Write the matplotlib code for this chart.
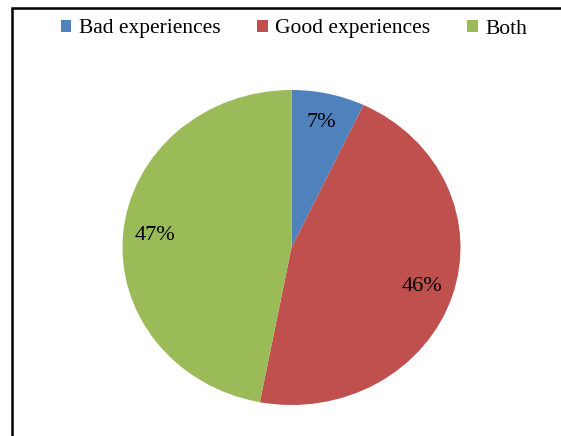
import matplotlib
matplotlib.use('Agg')
import matplotlib.pyplot as plt
from matplotlib.patches import Rectangle

categories = ['Bad experiences', 'Good experiences', 'Both']
shares = [7, 46, 47]
colors = ['#4F81BD', '#C0504D', '#9BBB59']

plt.rcParams['font.family'] = ['Liberation Serif', 'DejaVu Serif']

W, H = 561, 436
fig = plt.figure(figsize=(W / 100, H / 100), dpi=100)

# pie is slightly wider than tall, so place the axes by hand
cx, cy, rx, ry = 291.5, 247.5, 169, 157.5
ax = fig.add_axes([(cx - rx) / W, (H - cy - ry) / H, 2 * rx / W, 2 * ry / H])
wedges, texts, autotexts = ax.pie(
    shares, colors=colors, startangle=90, counterclock=False,
    autopct='%d%%', pctdistance=0.81,
    wedgeprops=dict(linewidth=0),
    textprops=dict(fontsize=16, color='black'))
ax.set_aspect('auto')
ax.set_xlim(-1, 1)
ax.set_ylim(-1, 1)

fig.legend(wedges, categories, loc='center', bbox_to_anchor=(294 / W, 1 - 29 / H),
           ncol=3, frameon=False, fontsize=15.5, handlelength=0.5, handleheight=0.5,
           handletextpad=0.35, columnspacing=1.7)

# chart border, running off the right and bottom edges
fig.add_artist(Rectangle((11.5 / W, -0.05), 1.0, 1.05 - 8.5 / H,
                         transform=fig.transFigure, fill=False, lw=1.8, ec='black'))

fig.savefig('out.png', dpi=100)
